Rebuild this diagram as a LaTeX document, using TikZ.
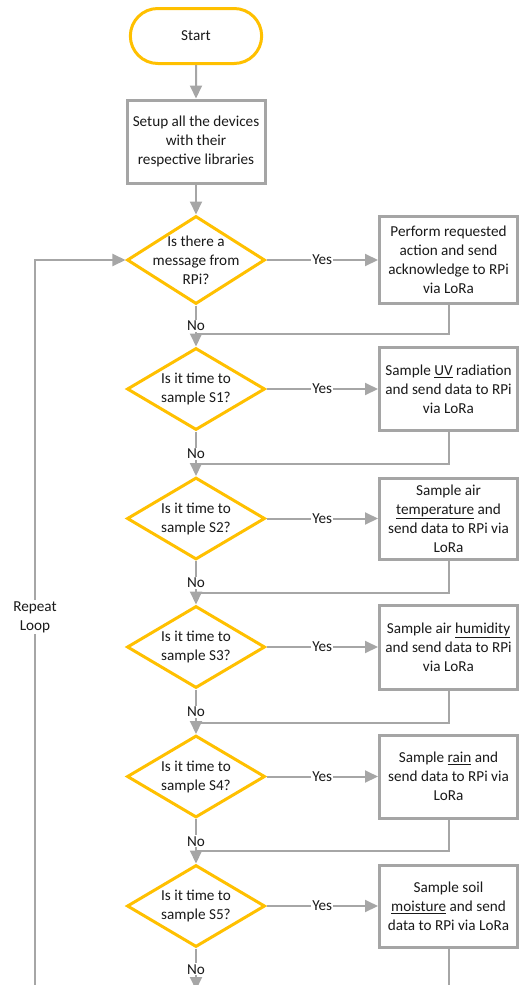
\documentclass[tikz,border=0pt]{standalone}
\usepackage{fontspec}
\setmainfont{Carlito}
\usetikzlibrary{arrows.meta,shapes.geometric,shapes.misc}
\definecolor{Gold}{HTML}{FFC000}
\definecolor{Wire}{HTML}{A6A6A6}
\definecolor{Frame}{HTML}{A5A5A5}
\definecolor{Ink}{HTML}{1A1A1A}

\begin{document}
\begin{tikzpicture}[x=1pt,y=-1pt,
  every node/.style={font=\fontsize{15.2}{19}\selectfont,text=Ink},
  term/.style={rounded rectangle,draw=Gold,line width=3pt,fill=white,minimum width=138pt,minimum height=55pt},
  proc/.style={rectangle,draw=Frame,line width=3pt,fill=white,minimum width=138pt,align=center,inner sep=2pt},
  decide/.style={diamond,draw=Gold,line width=3pt,fill=white,minimum width=138pt,minimum height=82pt,inner sep=0pt},
  dtext/.style={align=center,inner sep=0pt},
  tag/.style={fill=white,inner sep=1pt,align=center},
  wire/.style={draw=Wire,line width=2pt},
  flow/.style={wire,-{Triangle[length=13pt,width=12pt]}}]
\useasboundingbox (0,0) rectangle (519,985);
% start and setup
\node[term] (start) at (196,36) {Start};
\node[proc,minimum height=83pt] (setup) at (196,141.5) {Setup all the devices\\with their\\respective libraries};
% decisions
\node[decide,minimum height=88pt] (d1) at (196,260) {};
\node[dtext] (d1t) at (d1) {Is there a\\message from\\RPi?};
\node[decide] (d2) at (196,389) {};
\node[dtext] (d2t) at (d2) {Is it time to\\sample S1?};
\node[decide] (d3) at (196,518.5) {};
\node[dtext] (d3t) at (d3) {Is it time to\\sample S2?};
\node[decide] (d4) at (196,647) {};
\node[dtext] (d4t) at (d4) {Is it time to\\sample S3?};
\node[decide] (d5) at (196,776.5) {};
\node[dtext] (d5t) at (d5) {Is it time to\\sample S4?};
\node[decide] (d6) at (196,906) {};
\node[dtext] (d6t) at (d6) {Is it time to\\sample S5?};
% actions
\node[proc,minimum height=87pt] (b1) at (448.5,260) {Perform requested\\action and send\\acknowledge to RPi\\via LoRa};
\node[proc,minimum height=83pt] (b2) at (448.5,389) {Sample \underline{UV} radiation\\and send data to RPi\\via LoRa};
\node[proc,minimum height=81pt] (b3) at (448.5,518.5) {Sample air\\\underline{temperature} and\\send data to RPi via\\LoRa};
\node[proc,minimum height=84pt] (b4) at (448.5,647) {Sample air \underline{humidity}\\and send data to RPi\\via LoRa};
\node[proc,minimum height=83pt] (b5) at (448.5,776.5) {Sample \underline{rain} and\\send data to RPi via\\LoRa};
\node[proc,minimum height=82pt] (b6) at (448.5,906) {Sample soil\\\underline{moisture} and send\\data to RPi via LoRa};
% joins
\coordinate (j1) at (196,334);
\coordinate (j2) at (196,464);
\coordinate (j3) at (196,593);
\coordinate (j4) at (196,723);
\coordinate (j5) at (196,851);
\coordinate (endd) at (196,990);
\coordinate (endb) at (448.5,990);
\coordinate (lp) at (35,990);
\node[tag] (rep) at (35,617) {Repeat\\Loop};
% connectors
\draw[flow] (start) -- (setup);
\draw[flow] (setup) -- (d1);
\draw[flow] (d1) -- node[tag]{Yes} (b1);
\draw[flow] (d2) -- node[tag]{Yes} (b2);
\draw[flow] (d3) -- node[tag]{Yes} (b3);
\draw[flow] (d4) -- node[tag]{Yes} (b4);
\draw[flow] (d5) -- node[tag]{Yes} (b5);
\draw[flow] (d6) -- node[tag]{Yes} (b6);
\draw[flow] (d1) -- node[tag]{No} (d2);
\draw[flow] (d2) -- node[tag]{No} (d3);
\draw[flow] (d3) -- node[tag]{No} (d4);
\draw[flow] (d4) -- node[tag]{No} (d5);
\draw[flow] (d5) -- node[tag]{No} (d6);
\draw[flow] (d6) -- node[tag]{No} (endd);
\draw[wire] (b1) |- (j1);
\draw[wire] (b2) |- (j2);
\draw[wire] (b3) |- (j3);
\draw[wire] (b4) |- (j4);
\draw[wire] (b5) |- (j5);
\draw[wire] (b6) -- (endb);
\draw[wire] (lp) -- (rep);
\draw[flow] (rep) |- (d1);
\end{tikzpicture}
\end{document}
